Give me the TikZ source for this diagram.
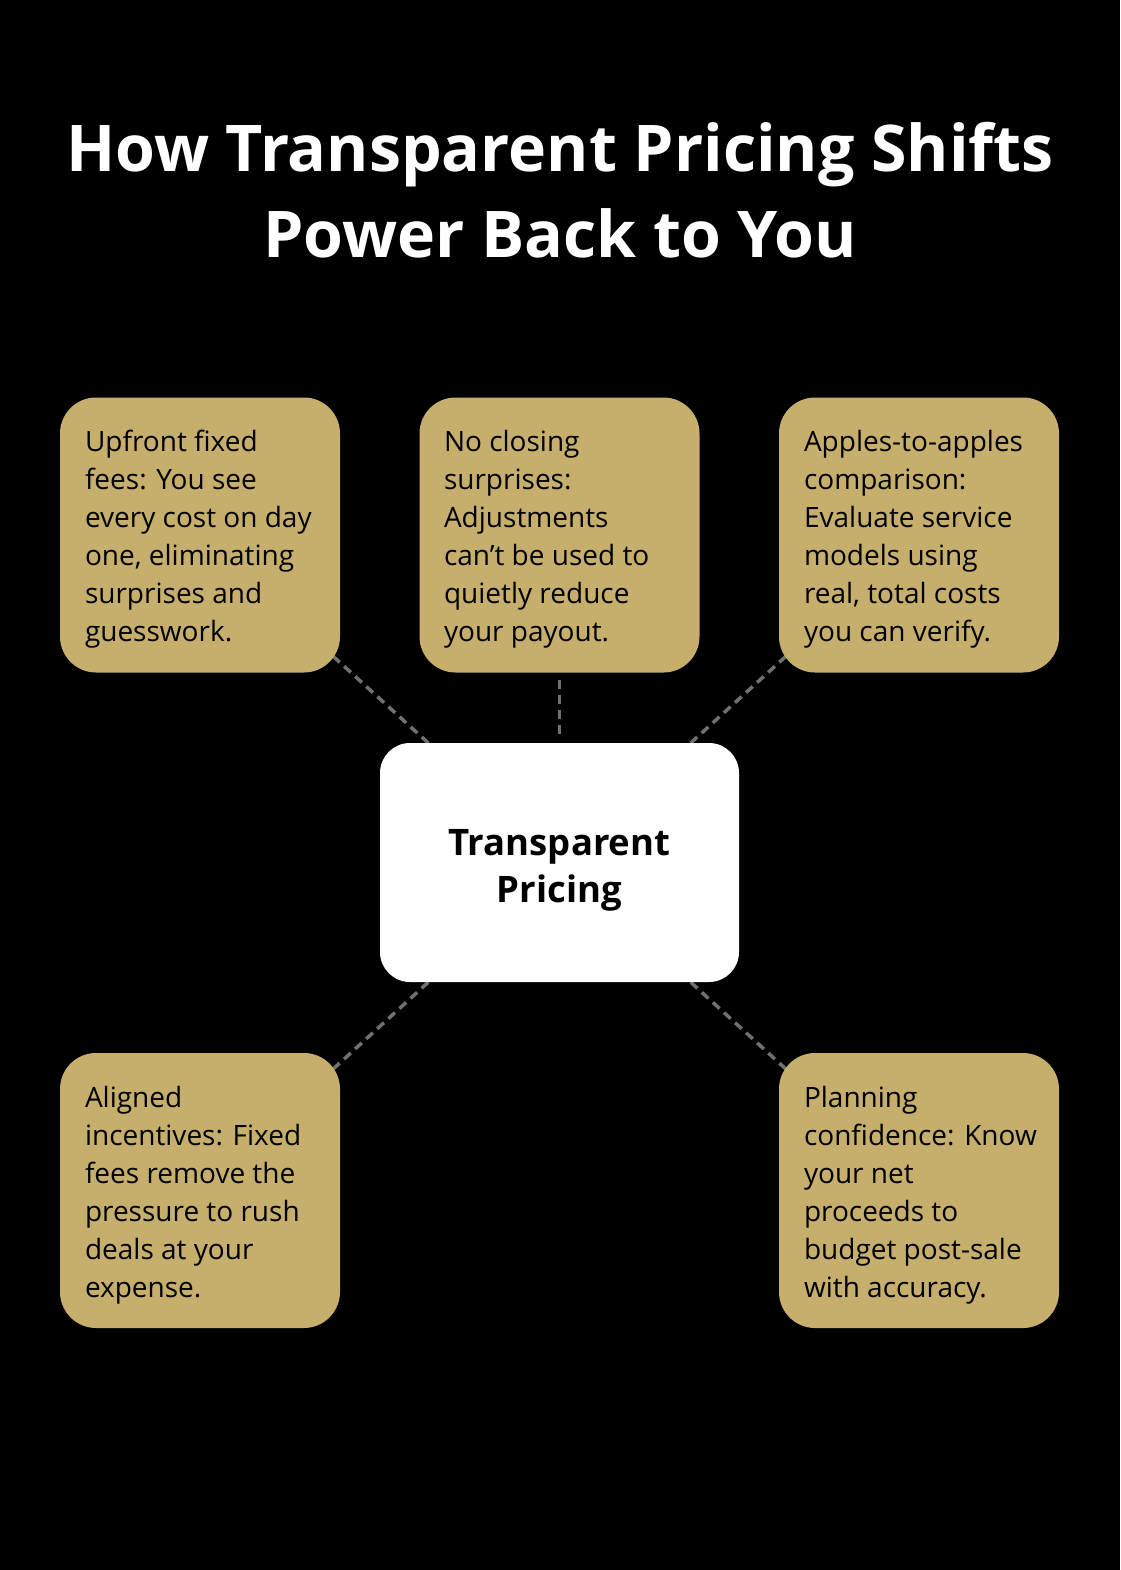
\documentclass[tikz,border=0pt]{standalone}
\usepackage{fontspec}
\setmainfont{Open Sans}
\usetikzlibrary{calc}
\pgfdeclarelayer{bg}
\pgfdeclarelayer{back}
\pgfsetlayers{bg,back,main}
\definecolor{gold}{HTML}{C6AF6C}
\definecolor{dashgray}{HTML}{707070}
\begin{document}
\begin{tikzpicture}[x=1pt,y=-1pt,
  card/.style={fill=gold, rounded corners=36pt, minimum width=280pt, minimum height=275pt, inner sep=0pt},
  hub/.style={fill=white, rounded corners=30pt, minimum width=359pt, minimum height=239pt, inner sep=0pt},
  body/.style={align=left, inner sep=0pt, font=\fontsize{28}{38}\selectfont, text=black},
  link/.style={draw=dashgray, line width=3.5pt, dash pattern=on 9pt off 6pt}]
\begin{pgfonlayer}{bg}
\fill[black] (0,0) rectangle (1120,1570);
\end{pgfonlayer}
\useasboundingbox (0,0) rectangle (1120,1570);

\node[align=center, text=white, font=\fontsize{64.4}{86}\selectfont\bfseries] (title) at (560,190)
  {How Transparent Pricing Shifts\\Power Back to You};

\node[card] (tl) at (200,535) {};
\node[card] (tc) at (559.5,535) {};
\node[card] (tr) at (919,535) {};
\node[card] (bl) at (200,1190.5) {};
\node[card] (br) at (919,1190.5) {};
\node[hub] (hub) at (559.5,862.5) {};

\node[align=center, inner sep=0pt, font=\fontsize{36.5}{47}\selectfont\bfseries] (hubtxt) at (559.5,870)
  {Transparent\\Pricing};

\node[body, anchor=west] (tltxt) at ($(tl.west)+(25,4.5)$)
  {Upfront fixed\\fees: You see\\every cost on day\\one, eliminating\\surprises and\\guesswork.};
\node[body, anchor=west] (tctxt) at ($(tc.west)+(24.5,4.5)$)
  {No closing\\surprises:\\Adjustments\\can’t be used to\\quietly reduce\\your payout.};
\node[body, anchor=west] (trtxt) at ($(tr.west)+(25,4.5)$)
  {Apples-to-apples\\comparison:\\Evaluate service\\models using\\real, total costs\\you can verify.};
\node[body, anchor=west] (bltxt) at ($(bl.west)+(25,4.5)$)
  {Aligned\\incentives: Fixed\\fees remove the\\pressure to rush\\deals at your\\expense.};
\node[body, anchor=west] (brtxt) at ($(br.west)+(25,4.5)$)
  {Planning\\confidence: Know\\your net\\proceeds to\\budget post-sale\\with accuracy.};

\begin{pgfonlayer}{back}
\draw[link] (tl.center) -- (hub.center);
\draw[link] (tr.center) -- (hub.center);
\draw[link] (bl.center) -- (hub.center);
\draw[link] (br.center) -- (hub.center);
\end{pgfonlayer}
\draw[link, shorten <=7pt, shorten >=6pt] (tc) -- (hub);
\end{tikzpicture}
\end{document}
